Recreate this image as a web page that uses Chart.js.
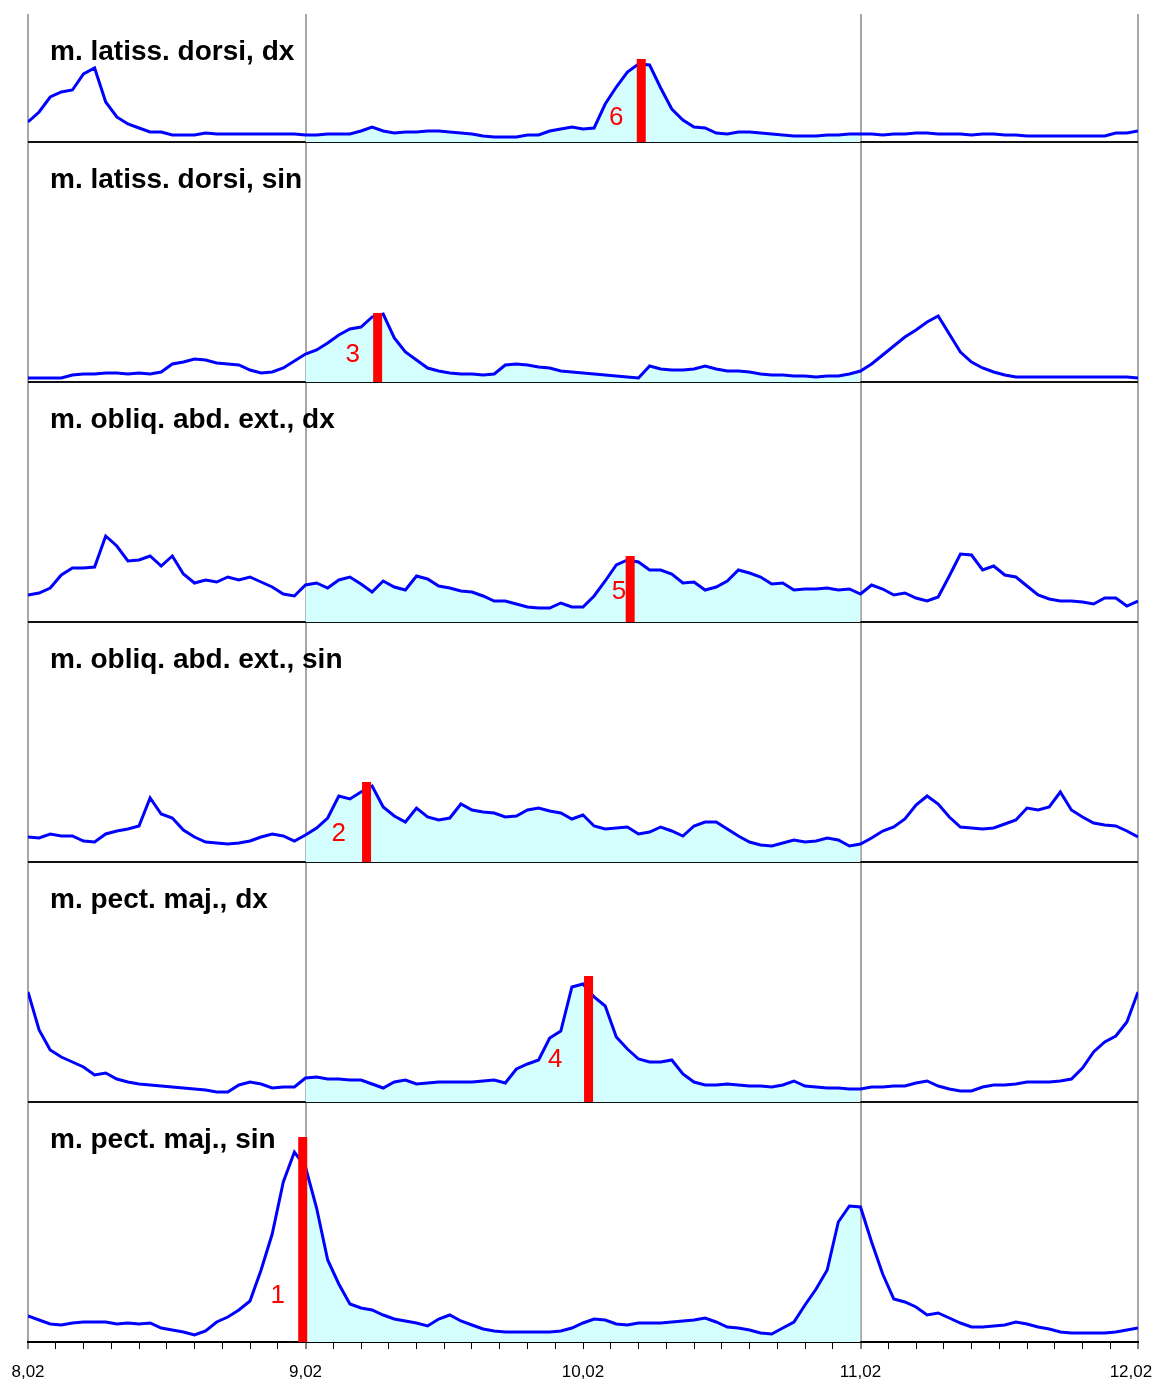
<!DOCTYPE html>
<html>
<head>
<meta charset="utf-8">
<title>EMG</title>
<script src="https://cdn.jsdelivr.net/npm/chart.js@4.4.1/dist/chart.umd.min.js"></script>
<style>
  html, body { margin: 0; padding: 0; background: #fff; }
  #wrap { width: 1156px; height: 1384px; }
</style>
</head>
<body>
<div id="wrap"><canvas id="chart"></canvas></div>
<script>
// sample times (s), one every 0.04 s
const times = Array.from({ length: 101 }, (_, i) => +(8.02 + i * 0.04).toFixed(2));

const muscles = [
  "m. latiss. dorsi, dx",
  "m. latiss. dorsi, sin",
  "m. obliq. abd. ext., dx",
  "m. obliq. abd. ext., sin",
  "m. pect. maj., dx",
  "m. pect. maj., sin",
];

// EMG envelopes (arbitrary units)
const latDorsiDx = [20, 30, 45, 50, 52, 68, 74, 40, 25, 18,
  14, 10, 10, 7, 7, 7, 9, 8, 8, 8,
  8, 8, 8, 8, 8, 7, 7, 8, 8, 8,
  11, 15, 11, 9, 10, 10, 11, 11, 10, 9,
  8, 6, 5, 5, 5, 7, 7, 11, 13, 15,
  13, 14, 38, 55, 70, 78, 77, 54, 33, 22,
  15, 14, 9, 8, 10, 10, 9, 8, 7, 6,
  6, 6, 7, 7, 8, 8, 8, 7, 8, 8,
  9, 9, 8, 8, 8, 7, 8, 8, 7, 7,
  6, 6, 6, 6, 6, 6, 6, 6, 9, 9, 11];

const latDorsiSin = [4, 4, 4, 4, 7, 8, 8, 9, 9, 8,
  9, 8, 10, 18, 20, 23, 22, 19, 18, 17,
  12, 9, 10, 14, 21, 28, 32, 39, 47, 53,
  55, 65, 68, 44, 30, 22, 14, 11, 9, 8,
  8, 7, 8, 17, 18, 17, 15, 14, 11, 10,
  9, 8, 7, 6, 5, 4, 16, 13, 12, 12,
  13, 16, 13, 11, 11, 10, 8, 7, 7, 6,
  6, 5, 6, 6, 8, 11, 18, 27, 36, 45,
  52, 60, 66, 48, 30, 20, 14, 10, 7, 5,
  5, 5, 5, 5, 5, 5, 5, 5, 5, 5, 4];

const obliqDx = [27, 29, 34, 47, 54, 54, 55, 86, 76, 61,
  62, 66, 56, 66, 48, 39, 42, 40, 45, 42,
  45, 40, 35, 28, 26, 37, 39, 34, 42, 45,
  38, 30, 41, 35, 32, 46, 43, 36, 34, 31,
  30, 26, 21, 21, 18, 15, 14, 14, 19, 15,
  15, 26, 41, 57, 62, 60, 52, 52, 48, 39,
  40, 32, 35, 41, 52, 49, 45, 38, 39, 32,
  33, 33, 34, 32, 33, 28, 37, 33, 27, 29,
  24, 21, 25, 46, 68, 67, 52, 56, 47, 45,
  36, 27, 23, 21, 21, 20, 18, 24, 24, 16, 21];

const obliqSin = [25, 24, 28, 26, 26, 21, 20, 28, 31, 33,
  36, 64, 48, 44, 32, 25, 20, 19, 18, 19,
  21, 25, 28, 26, 21, 27, 34, 44, 66, 63,
  70, 76, 55, 46, 40, 54, 45, 42, 44, 58,
  52, 50, 49, 45, 46, 52, 54, 51, 49, 43,
  47, 36, 33, 34, 35, 28, 30, 35, 31, 26,
  36, 40, 40, 33, 26, 20, 17, 16, 19, 22,
  20, 21, 24, 22, 16, 18, 24, 31, 35, 43,
  57, 66, 58, 45, 35, 34, 33, 34, 38, 42,
  54, 52, 55, 70, 52, 45, 39, 37, 36, 31, 25];

const pectDx = [110, 72, 52, 45, 40, 35, 27, 29, 23, 20,
  18, 17, 16, 15, 14, 13, 12, 10, 10, 17,
  20, 18, 14, 15, 15, 24, 25, 23, 23, 22,
  22, 18, 14, 20, 22, 18, 19, 20, 20, 20,
  20, 21, 22, 19, 33, 38, 42, 64, 71, 115,
  118, 105, 96, 65, 53, 43, 40, 40, 42, 28,
  20, 17, 17, 18, 17, 16, 16, 15, 17, 21,
  16, 15, 14, 14, 13, 13, 15, 15, 16, 16,
  19, 21, 16, 13, 11, 11, 15, 17, 17, 18,
  20, 20, 20, 21, 23, 34, 50, 60, 66, 80, 110];

const pectSin = [26, 22, 18, 17, 19, 20, 20, 20, 18, 19,
  18, 19, 14, 12, 10, 7, 11, 20, 25, 32,
  41, 72, 108, 160, 190, 175, 134, 82, 58, 38,
  34, 32, 27, 23, 21, 19, 16, 23, 27, 21,
  17, 13, 11, 10, 10, 10, 10, 10, 11, 14,
  19, 23, 22, 18, 17, 19, 19, 19, 20, 21,
  22, 24, 20, 15, 14, 12, 9, 8, 14, 20,
  37, 53, 72, 120, 136, 135, 100, 68, 43, 40,
  35, 27, 29, 24, 19, 15, 15, 16, 17, 20,
  18, 15, 13, 10, 9, 9, 9, 9, 10, 12, 14];

// shaded cycle and cycle boundaries
const cycle = [9.02, 11.02];
const cycleLines = [8.02, 9.02, 11.02, 12.02];
const majorTicks = [8.02, 9.02, 10.02, 11.02, 12.02];
const tickTimes = Array.from({ length: 41 }, (_, i) => +(8.02 + i * 0.1).toFixed(2));

// red markers: number, panel, time, bar height, where the number sits
const markerNumbers = [6, 3, 5, 2, 4, 1];
const markerPanels = [0, 1, 2, 3, 4, 5];
const markerTimes = [10.23, 9.28, 10.19, 9.24, 10.04, 9.01];
const markerHeights = [83, 69, 66, 80, 126, 205];
const labelTimes = [10.14, 9.19, 10.15, 9.14, 9.92, 8.92];
const labelHeights = [24, 27, 30, 28, 42, 46];

const panelIds = ["p1", "p2", "p3", "p4", "p5", "p6"];
const series = [latDorsiDx, latDorsiSin, obliqDx, obliqSin, pectDx, pectSin];
const panelMax = [128, 240, 240, 240, 240, 240];

const FONT = "'Liberation Sans', Arial, sans-serif";

const datasets = [];
series.forEach((vals, k) => {
  const pts = times.map((t, i) => ({ x: t, y: vals[i] }));
  datasets.push({
    data: pts,
    yAxisID: panelIds[k],
    borderColor: "#0000ff",
    borderWidth: 3,
    pointRadius: 0,
    tension: 0,
    fill: false,
    order: 2,
  });
  // cyan area only inside the cycle
  datasets.push({
    data: pts.filter((p) => p.x >= cycle[0] && p.x <= cycle[1]),
    yAxisID: panelIds[k],
    borderColor: "transparent",
    borderWidth: 0,
    backgroundColor: "#d5ffff",
    pointRadius: 0,
    tension: 0,
    fill: "origin",
    order: 3,
  });
});

markerTimes.forEach((t, m) => {
  datasets.push({
    data: [{ x: t, y: 0 }, { x: t, y: markerHeights[m] }],
    yAxisID: panelIds[markerPanels[m]],
    borderColor: "#ff0000",
    borderWidth: 9,
    borderCapStyle: "butt",
    pointRadius: 0,
    fill: false,
    order: 1,
  });
});

const scales = {
  x: {
    type: "linear",
    min: 8.02,
    max: 12.02,
    afterBuildTicks: (s) => { s.ticks = tickTimes.map((v) => ({ value: v })); },
    afterFit: (s) => {
      s.paddingLeft = 0;
      s.paddingRight = 0;
      s.height = 40;
    },
    grid: {
      color: (c) => (cycleLines.includes(c.tick.value) ? "#a6a6a6" : "transparent"),
      lineWidth: (c) => (cycleLines.includes(c.tick.value) ? 2 : 1),
      tickColor: "#000",
      tickLength: 7,
      tickWidth: 1,
    },
    border: { color: "#000", width: 2 },
    ticks: {
      autoSkip: false,
      maxRotation: 0,
      padding: 13,
      color: "#000",
      font: { family: FONT, size: 17 },
      callback: (v) => {
        if (!majorTicks.includes(v)) return "";
        const txt = v.toFixed(2).replace(".", ",");
        // trailing spaces keep the last label inside the canvas
        return v === 12.02 ? txt + "   " : txt;
      },
    },
  },
};

panelIds.forEach((id, k) => {
  scales[id] = {
    type: "linear",
    position: "left",
    stack: "emg",
    stackWeight: panelMax[k],
    weight: panelIds.length - k,
    min: 0,
    max: panelMax[k],
    ticks: { display: false },
    border: { display: false },
    grid: {
      drawTicks: false,
      color: (c) => (c.tick.value === 0 ? "#111" : "transparent"),
      lineWidth: 2,
    },
  };
});

const panelLabels = {
  id: "panelLabels",
  afterDatasetsDraw(chart) {
    const { ctx, chartArea } = chart;
    const sc = chart.scales;
    ctx.save();
    ctx.fillStyle = "#000";
    ctx.font = "bold 28px " + FONT;
    ctx.textBaseline = "alphabetic";
    muscles.forEach((name, k) => {
      ctx.fillText(name, chartArea.left + 22, sc[panelIds[k]].top + 46);
    });

    ctx.fillStyle = "#ff0000";
    ctx.font = "26px " + FONT;
    ctx.textAlign = "center";
    ctx.textBaseline = "middle";
    markerNumbers.forEach((n, m) => {
      const ys = sc[panelIds[markerPanels[m]]];
      ctx.fillText(String(n), sc.x.getPixelForValue(labelTimes[m]), ys.getPixelForValue(labelHeights[m]));
    });
    ctx.restore();
  },
};

new Chart(document.getElementById("chart"), {
  type: "line",
  data: { datasets: datasets },
  options: {
    responsive: true,
    maintainAspectRatio: false,
    animation: false,
    events: [],
    layout: { padding: { left: 28, right: 18, top: 14, bottom: 2 } },
    plugins: {
      legend: { display: false },
      tooltip: { enabled: false },
    },
    scales: scales,
  },
  plugins: [panelLabels],
});
</script>
</body>
</html>
